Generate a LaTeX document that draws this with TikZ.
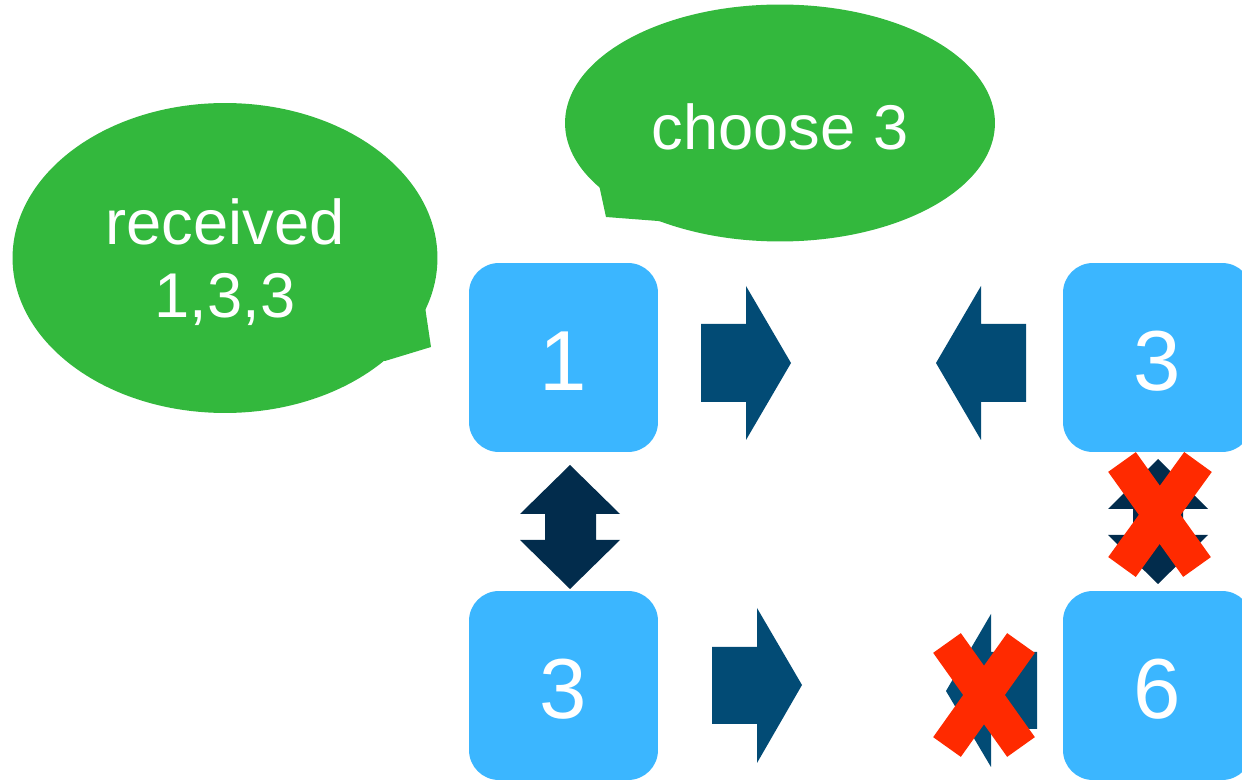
\documentclass[tikz,border=0pt]{standalone}
\usepackage{fontspec}
\setmainfont{Liberation Sans}
\usetikzlibrary{shapes.geometric}
\definecolor{boxblue}{HTML}{3BB6FF}
\definecolor{arrowblue}{HTML}{024B75}
\definecolor{arrownavy}{HTML}{022C4C}
\definecolor{bubblegreen}{HTML}{33B83D}
\definecolor{crossred}{HTML}{FF2A00}
\tikzset{
  nodebox/.style={rectangle, rounded corners=17pt, fill=boxblue, draw=none,
    minimum width=3.78cm, minimum height=3.78cm, inner sep=0pt, outer sep=0pt},
  numtext/.style={text=white, font=\fontsize{48.5}{58}\selectfont, inner sep=0pt},
  bubble/.style={ellipse, fill=bubblegreen, draw=none, inner sep=0pt, outer sep=0pt},
  bubbletext/.style={text=white, align=center, inner sep=0pt,
    font=\fontsize{36}{41.5}\selectfont},
  blockarrow/.style={fill=arrowblue, draw=none},
  dblarrow/.style={fill=arrownavy, draw=none},
  cross/.style={draw=crossred, line width=0.68cm, line cap=butt},
}
\begin{document}
\begin{tikzpicture}[x=0.02cm, y=-0.02cm]
\useasboundingbox (0,0) rectangle (1242,780);
\clip (0,0) rectangle (1242,780);

% processes
\node[nodebox] (p1) at (563.5,357.5) {};
\node[nodebox] (p2) at (1157.5,357.5) {};
\node[nodebox] (p3) at (563.5,685.5) {};
\node[nodebox] (p4) at (1157.5,685.5) {};
\node[numtext] (t1) at ([yshift=-0.08cm]p1.center) {1};
\node[numtext] (t2) at ([yshift=-0.08cm]p2.center) {3};
\node[numtext] (t3) at ([yshift=-0.08cm]p3.center) {3};
\node[numtext] (t4) at ([yshift=-0.08cm]p4.center) {6};

% speech bubbles with tails
\fill[bubblegreen] (424,300) -- (431,347) -- (385,361) -- (360,360) -- cycle;
\node[bubble, minimum width=8.5cm, minimum height=6.2cm] (b1) at (225,258) {};
\node[bubbletext] (bt1) at ([yshift=-0.09cm]b1.center) {received\\1,3,3};
\fill[bubblegreen] (598,180) -- (606,217) -- (658,221) -- (700,225) -- cycle;
\node[bubble, minimum width=8.6cm, minimum height=4.74cm] (b2) at (780,123) {};
\node[bubbletext] (bt2) at ([yshift=-0.08cm]b2.center) {choose 3};

% messages on the top row
\fill[blockarrow] (701,324) -- (746,324) -- (746,286) -- (791,363) -- (746,440) -- (746,402) -- (701,402) -- cycle;
\fill[blockarrow] (1026,324) -- (981,324) -- (981,286) -- (936,363) -- (981,440) -- (981,402) -- (1026,402) -- cycle;

% messages on the bottom row
\fill[blockarrow] (712,647) -- (757,647) -- (757,608) -- (802,685) -- (757,763) -- (757,724) -- (712,724) -- cycle;
\fill[blockarrow] (1037,652) -- (991,652) -- (991,614) -- (946,691) -- (991,767) -- (991,729) -- (1037,729) -- cycle;

% vertical links
\fill[dblarrow] (570,465) -- (620,514) -- (596,514) -- (596,540) -- (620,540) -- (570,589)
  -- (520,540) -- (545,540) -- (545,514) -- (520,514) -- cycle;
\fill[dblarrow] (1158,459) -- (1208,509) -- (1183,509) -- (1183,535) -- (1208,535) -- (1158,584)
  -- (1108,535) -- (1133,535) -- (1133,509) -- (1108,509) -- cycle;

% failed links
\draw[cross] (1122,462) -- (1197,567);
\draw[cross] (1198,462) -- (1122,567);
\draw[cross] (947,643) -- (1021,747);
\draw[cross] (1021,643) -- (947,747);
\end{tikzpicture}
\end{document}
